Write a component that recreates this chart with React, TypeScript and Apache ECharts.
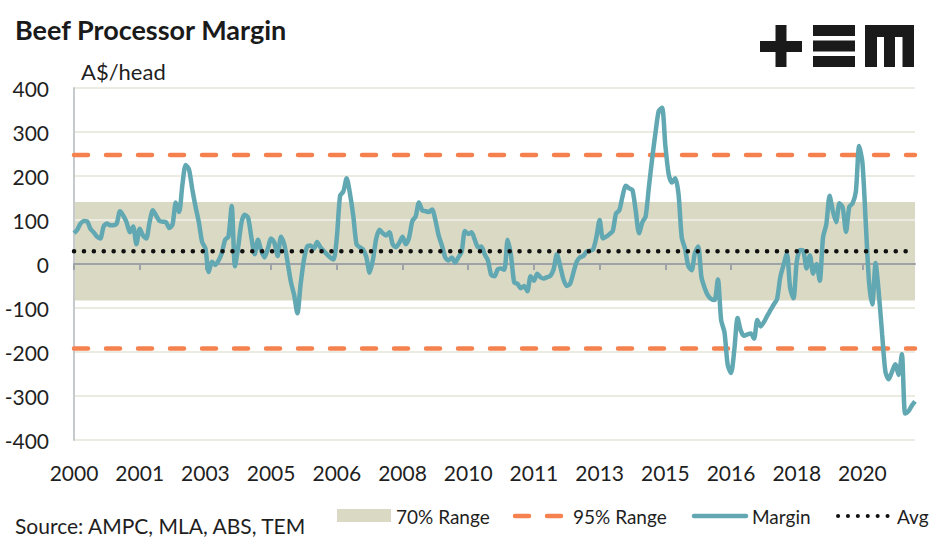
import React, { useEffect, useRef } from "react";
import * as echarts from "echarts";

// ---------- data ----------
const START_YEAR = 2000;
const LABEL_EVERY = 20; // months between axis labels / ticks
const MARGIN: number[] = [
  70, 78, 92, 98, 97, 80, 72, 62, 58, 85, 92, 88,
  88, 92, 120, 110, 95, 72, 85, 45, 80, 65, 58, 95,
  122, 110, 98, 96, 95, 82, 90, 140, 118, 180, 225, 215,
  170, 130, 95, 50, 35, -18, 5, -2, 8, 25, 55, 62,
  132, -5, 40, 95, 112, 105, 60, 22, 55, 30, 15, 35,
  58, 48, 18, 62, 45, 5, -40, -70, -112, -45, 10, 40,
  42, 35, 50, 38, 30, 22, 15, 10, 60, 155, 165, 195,
  160, 110, 45, 38, 33, 15, -20, 10, 58, 78, 70, 65,
  72, 45, 38, 48, 62, 45, 60, 98, 108, 140, 122, 120,
  118, 124, 100, 65, 42, 15, 8, 15, 3, 15, 28, 75,
  68, 72, 55, 38, 40, 22, 8, -25, -28, -12, -10, -13,
  55, 20, -42, -45, -55, -50, -62, -28, -38, -22, -30, -33,
  -30, -27, -12, 22, -5, -35, -50, -45, -20, 5, 15, 18,
  28, 30, 33, 60, 100, 58, 62, 68, 75, 115, 122, 155,
  178, 172, 168, 120, 70, 95, 108, 175, 240, 298, 348, 355,
  270, 205, 185, 195, 160, 60, 35, -5, -14, 25, 40, -30,
  -55, -72, -80, -82, -35, -128, -155, -230, -248, -195, -123, -152,
  -163, -160, -158, -170, -127, -142, -132, -118, -105, -92, -80, -30,
  -2, 24, -55, -78, 5, 32, 30, -10, 20, -22, 0, -38,
  60, 90, 155, 120, 95, 138, 128, 73, 130, 138, 165, 268,
  230, 95, -40, -92, 2, -68, -160, -245, -262, -245, -228, -252,
  -205, -340, -335, -322, -312,
];
const AVG = 29;
const RANGE70_LOW = -83;
const RANGE70_HIGH = 141;
const RANGE95_LOW = -192;
const RANGE95_HIGH = 248;
const Y_MIN = -400;
const Y_MAX = 400;
const Y_STEP = 100;

const CATEGORIES = MARGIN.map(
  (_, i) => `${START_YEAR + Math.floor(i / 12)}-${String((i % 12) + 1).padStart(2, "0")}`
);
const const95High = MARGIN.map(() => RANGE95_HIGH);
const const95Low = MARGIN.map(() => RANGE95_LOW);
const constAvg = MARGIN.map(() => AVG);

// ---------- styles ----------
const FONT = "Lato, 'Noto Sans', sans-serif";
const TEXT = "#1f1f1f";
const TEAL = "#62a8b3";
const ORANGE = "#f5814f";
const BAND = "#d9d9c4";
const GRID = "#ebebe1";
const AXIS = "#9ea3a8";

const GRID_TOP = 88;
const GRID_BOTTOM = 103;
const LABEL_GAP = 22; // gap between plot bottom and year labels

export default function App() {
  const ref = useRef<HTMLDivElement>(null);

  useEffect(() => {
    document.body.style.margin = "0";
    if (!ref.current) return;
    const chart = echarts.init(ref.current, undefined, { renderer: "svg" });

    const dash95 = { type: [14, 18] as any, cap: "round" as const, width: 4.5, color: ORANGE };
    const dots = { type: [0.1, 9.8] as any, cap: "round" as const, width: 4.5, color: "#111111" };

    const option: any = {
      animation: false,
      backgroundColor: "#ffffff",
      grid: {
        left: 74,
        right: 32,
        top: GRID_TOP,
        bottom: GRID_BOTTOM,
        containLabel: false,
        outerBoundsMode: "none",
      },
      xAxis: {
        type: "category",
        data: CATEGORIES,
        boundaryGap: false,
        position: "bottom",
        z: 4,
        axisLine: { show: true, onZero: true, lineStyle: { color: AXIS, width: 2 } },
        axisTick: {
          show: true,
          interval: LABEL_EVERY - 1,
          length: 6,
          lineStyle: { color: AXIS, width: 2 },
        },
        axisLabel: {
          interval: LABEL_EVERY - 1,
          margin: LABEL_GAP,
          fontFamily: FONT,
          fontSize: 21,
          color: TEXT,
          formatter: (v: string) => v.slice(0, 4),
        },
        splitLine: { show: false },
      },
      yAxis: {
        type: "value",
        min: Y_MIN,
        max: Y_MAX,
        interval: Y_STEP,
        z: 4,
        axisLine: { show: true, lineStyle: { color: "#c6cacd", width: 2 } },
        axisTick: { show: false },
        axisLabel: {
          margin: 25,
          fontFamily: FONT,
          fontSize: 21,
          color: TEXT,
        },
        splitLine: { show: true, lineStyle: { color: GRID, width: 2 } },
      },
      series: [
        {
          name: "70% Range",
          type: "line",
          data: [],
          showSymbol: false,
          silent: true,
          z: 0,
          markArea: {
            silent: true,
            z: 0,
            itemStyle: { color: BAND },
            data: [[{ yAxis: RANGE70_HIGH, x: 74 }, { yAxis: RANGE70_LOW, x: 915 }]],
          },
        },
        {
          name: "95% Range",
          type: "line",
          data: const95High,
          showSymbol: false,
          silent: true,
          z: 4,
          lineStyle: dash95,
        },
        {
          name: "95% Range low",
          type: "line",
          data: const95Low,
          showSymbol: false,
          silent: true,
          z: 4,
          lineStyle: dash95,
        },
        {
          name: "Margin",
          type: "line",
          data: MARGIN,
          showSymbol: false,
          smooth: 0.25,
          z: 5,
          lineStyle: { color: TEAL, width: 4.5 },
        },
        {
          name: "Avg",
          type: "line",
          data: constAvg,
          showSymbol: false,
          silent: true,
          z: 6,
          lineStyle: dots,
        },
      ],
      graphic: [
        {
          type: "text",
          x: 15,
          y: 29,
          style: {
            text: "Beef Processor Margin",
            font: `bold 27px ${FONT}`,
            fill: "#1a1a1a",
            textVerticalAlign: "middle",
          },
        },
        {
          type: "text",
          x: 81,
          y: 71,
          style: {
            text: "A$/head",
            font: `22px ${FONT}`,
            fill: TEXT,
            textVerticalAlign: "middle",
          },
        },
        {
          type: "text",
          x: 15,
          y: 525,
          style: {
            text: "Source: AMPC, MLA, ABS, TEM",
            font: `21px ${FONT}`,
            fill: TEXT,
            textVerticalAlign: "middle",
          },
        },
        // logo +EM
        { type: "rect", shape: { x: 760, y: 41, width: 42, height: 11 }, style: { fill: "#1a1a1a" } },
        { type: "rect", shape: { x: 775.5, y: 25, width: 11, height: 42 }, style: { fill: "#1a1a1a" } },
        { type: "rect", shape: { x: 813, y: 25, width: 42, height: 11 }, style: { fill: "#1a1a1a" } },
        { type: "rect", shape: { x: 813, y: 40.5, width: 42, height: 11 }, style: { fill: "#1a1a1a" } },
        { type: "rect", shape: { x: 813, y: 56, width: 42, height: 11 }, style: { fill: "#1a1a1a" } },
        { type: "rect", shape: { x: 865, y: 25, width: 49, height: 12 }, style: { fill: "#1a1a1a" } },
        { type: "rect", shape: { x: 865, y: 25, width: 12, height: 42 }, style: { fill: "#1a1a1a" } },
        { type: "rect", shape: { x: 884, y: 25, width: 11, height: 42 }, style: { fill: "#1a1a1a" } },
        { type: "rect", shape: { x: 902.5, y: 25, width: 11.5, height: 42 }, style: { fill: "#1a1a1a" } },
        // legend
        { type: "rect", shape: { x: 337, y: 509, width: 54, height: 13 }, style: { fill: BAND } },
        {
          type: "text",
          x: 396,
          y: 516,
          style: { text: "70% Range", font: `19px ${FONT}`, fill: TEXT, textVerticalAlign: "middle" },
        },
        {
          type: "line",
          shape: { x1: 515, y1: 516, x2: 563, y2: 516 },
          style: { stroke: ORANGE, lineWidth: 4.5, lineDash: [14, 18], lineCap: "round" },
        },
        {
          type: "text",
          x: 573,
          y: 516,
          style: { text: "95% Range", font: `19px ${FONT}`, fill: TEXT, textVerticalAlign: "middle" },
        },
        {
          type: "line",
          shape: { x1: 694, y1: 516, x2: 746, y2: 516 },
          style: { stroke: TEAL, lineWidth: 4.5, lineCap: "round" },
        },
        {
          type: "text",
          x: 752,
          y: 516,
          style: { text: "Margin", font: `19px ${FONT}`, fill: TEXT, textVerticalAlign: "middle" },
        },
        {
          type: "line",
          shape: { x1: 838, y1: 516, x2: 888, y2: 516 },
          style: { stroke: "#111111", lineWidth: 4, lineDash: [0.1, 9.8], lineCap: "round" },
        },
        {
          type: "text",
          x: 897,
          y: 516,
          style: { text: "Avg", font: `19px ${FONT}`, fill: TEXT, textVerticalAlign: "middle" },
        },
      ],
    };

    chart.setOption(option);
    return () => chart.dispose();
  }, []);

  return <div ref={ref} style={{ width: 947, height: 543 }} />;
}
